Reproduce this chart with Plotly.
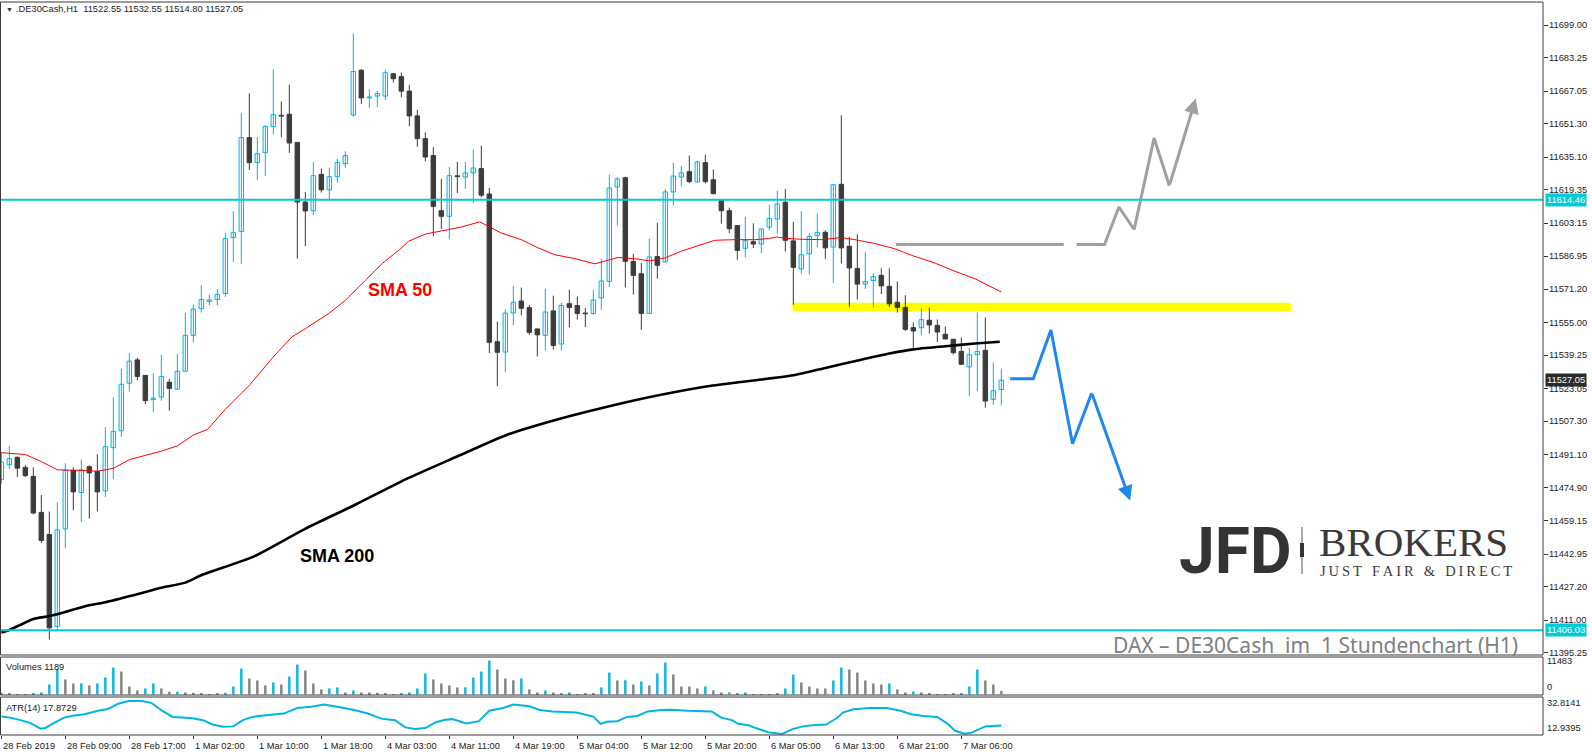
import plotly.graph_objects as go

# ------------------------------------------------------------------ data
open_ = [11479.0, 11486.2, 11489.7, 11484.9, 11480.5, 11463.1, 11452.4, 11407.9, 11455.1, 11483.4,
         11472.7, 11485.2, 11482.9, 11473.5, 11494.4, 11502.6, 11525.6, 11536.9, 11529.4, 11517.7,
         11518.9, 11526.1, 11522.7, 11531.4, 11548.8, 11561.7, 11565.2, 11566.1, 11569.0, 11596.1,
         11599.0, 11644.5, 11632.4, 11637.2, 11649.8, 11655.3, 11655.8, 11642.2, 11613.3, 11609.1,
         11626.7, 11619.2, 11625.6, 11631.9, 11655.5, 11677.1, 11663.7, 11664.6, 11664.6, 11675.4,
         11674.0, 11667.0, 11655.0, 11644.0, 11635.8, 11609.1, 11606.4, 11626.0, 11625.4, 11627.4,
         11629.5, 11617.2, 11545.7, 11540.7, 11559.6, 11565.4, 11562.2, 11551.9, 11548.8, 11560.6,
         11544.6, 11564.1, 11563.2, 11559.6, 11559.4, 11566.9, 11574.9, 11620.6, 11625.1, 11584.5,
         11578.6, 11559.4, 11586.9, 11584.3, 11618.2, 11625.4, 11628.0, 11623.0, 11632.4, 11624.1,
         11614.0, 11609.1, 11601.9, 11590.9, 11594.1, 11593.0, 11601.2, 11605.1, 11613.2, 11594.5,
         11580.9, 11588.2, 11597.0, 11598.7, 11591.5, 11621.9, 11591.9, 11581.2, 11573.6, 11575.3,
         11577.8, 11572.5, 11564.8, 11562.3, 11552.5, 11552.5, 11556.1, 11553.6, 11549.3, 11546.9,
         11541.0, 11533.5, 11539.4, 11541.5, 11517.8, 11522.55]
high_ = [11492.0, 11495.3, 11490.2, 11485.9, 11484.9, 11471.5, 11463.5, 11468.1, 11486.9, 11484.9,
         11488.7, 11485.9, 11491.2, 11504.3, 11518.9, 11532.6, 11540.1, 11537.9, 11529.4, 11530.4,
         11539.3, 11527.6, 11539.8, 11559.7, 11563.7, 11573.0, 11568.5, 11571.1, 11598.5, 11608.8,
         11656.3, 11665.9, 11644.6, 11650.4, 11677.5, 11662.0, 11670.1, 11642.2, 11618.2, 11632.7,
         11629.5, 11630.0, 11634.3, 11637.9, 11694.9, 11677.7, 11667.9, 11667.1, 11677.1, 11675.8,
         11676.0, 11670.0, 11658.0, 11647.0, 11640.0, 11624.5, 11630.3, 11632.7, 11632.7, 11638.7,
         11640.6, 11620.1, 11555.4, 11561.4, 11572.8, 11571.9, 11563.5, 11551.9, 11571.4, 11568.0,
         11564.5, 11570.9, 11567.5, 11562.0, 11570.9, 11585.9, 11626.6, 11625.3, 11625.6, 11588.3,
         11583.8, 11595.6, 11603.3, 11619.6, 11632.4, 11630.8, 11635.8, 11633.3, 11636.2, 11629.0,
         11614.5, 11610.6, 11601.9, 11606.2, 11603.0, 11600.3, 11612.0, 11618.8, 11619.6, 11603.8,
         11608.8, 11598.3, 11607.8, 11599.6, 11621.7, 11655.3, 11596.4, 11597.7, 11589.0, 11578.8,
         11581.2, 11581.2, 11574.9, 11568.2, 11555.1, 11562.2, 11562.2, 11556.5, 11553.1, 11546.9,
         11547.8, 11542.7, 11559.9, 11557.5, 11535.7, 11532.55]
low_ = [11477.0, 11484.0, 11480.2, 11480.2, 11462.1, 11448.2, 11401.5, 11405.5, 11445.7, 11464.1,
        11458.4, 11460.1, 11463.5, 11470.5, 11479.2, 11499.6, 11521.5, 11527.1, 11515.5, 11511.8,
        11517.2, 11512.3, 11522.7, 11531.4, 11545.3, 11559.8, 11563.3, 11563.3, 11567.4, 11584.3,
        11583.3, 11628.8, 11624.0, 11626.0, 11646.0, 11644.6, 11637.1, 11585.9, 11592.0, 11606.9,
        11617.9, 11614.5, 11622.7, 11629.8, 11654.6, 11660.8, 11658.9, 11659.3, 11662.7, 11671.1,
        11664.0, 11650.0, 11640.1, 11633.0, 11596.7, 11600.3, 11595.4, 11617.7, 11619.8, 11612.8,
        11615.6, 11540.2, 11524.1, 11531.0, 11553.6, 11558.5, 11549.1, 11538.6, 11541.5, 11541.9,
        11541.5, 11552.7, 11556.4, 11552.8, 11558.8, 11561.2, 11572.2, 11601.9, 11572.0, 11568.5,
        11551.5, 11559.3, 11576.2, 11584.3, 11611.7, 11620.9, 11622.4, 11622.7, 11622.4, 11616.9,
        11602.8, 11598.3, 11585.4, 11586.5, 11591.1, 11588.5, 11599.6, 11598.0, 11589.4, 11563.6,
        11578.6, 11578.2, 11591.5, 11585.7, 11574.1, 11583.5, 11562.5, 11566.2, 11571.2, 11562.2,
        11568.8, 11562.5, 11559.8, 11550.9, 11542.0, 11548.8, 11549.6, 11545.6, 11547.0, 11539.5,
        11534.4, 11519.4, 11521.8, 11513.8, 11515.2, 11514.80]
close_ = [11487.4, 11489.1, 11484.5, 11480.9, 11462.8, 11449.5, 11407.2, 11454.6, 11483.4, 11473.0,
          11483.7, 11482.2, 11473.0, 11494.9, 11502.3, 11525.1, 11536.3, 11528.9, 11517.2, 11518.4,
          11528.9, 11523.1, 11531.4, 11548.8, 11561.5, 11566.1, 11565.9, 11568.6, 11595.6, 11598.5,
          11644.5, 11632.4, 11636.7, 11649.9, 11655.6, 11654.9, 11641.9, 11613.3, 11609.0, 11626.1,
          11619.2, 11625.6, 11632.4, 11635.8, 11676.5, 11663.7, 11664.2, 11665.8, 11675.9, 11673.0,
          11667.0, 11655.0, 11644.0, 11635.1, 11611.2, 11606.4, 11626.1, 11625.6, 11627.4, 11629.8,
          11616.6, 11545.4, 11540.6, 11559.6, 11564.8, 11561.9, 11550.2, 11549.0, 11560.1, 11543.9,
          11563.2, 11562.3, 11559.4, 11559.2, 11565.9, 11575.1, 11620.1, 11624.5, 11584.6, 11577.8,
          11559.4, 11586.7, 11582.7, 11618.2, 11625.9, 11627.4, 11623.2, 11632.7, 11623.2, 11617.4,
          11609.1, 11600.4, 11589.9, 11594.6, 11593.0, 11600.3, 11605.4, 11612.4, 11594.8, 11581.7,
          11587.8, 11596.7, 11598.5, 11591.1, 11621.7, 11591.1, 11581.4, 11573.6, 11574.8, 11577.2,
          11572.7, 11564.0, 11562.3, 11551.7, 11550.9, 11556.4, 11553.8, 11550.4, 11547.0, 11540.4,
          11534.8, 11539.4, 11541.0, 11517.0, 11522.0, 11527.05]
volume = [563, 338, 90, 95, 338, 676, 3378, 8670, 5067, 3716,
          3780, 3040, 3716, 5743, 9121, 7769, 2702, 1351, 2027, 3716,
          2027, 901, 930, 676, 563, 338, 110, 338, 563, 2702,
          8783, 5405, 4729, 3040, 4054, 3378, 6080, 10134, 8107, 3716,
          1689, 2027, 2365, 676, 1351, 676, 650, 563, 338, 110,
          338, 676, 2027, 7094, 5067, 3716, 3040, 2365, 2400, 5743,
          7769, 11483, 8445, 5405, 4800, 5405, 1689, 676, 1351, 676,
          338, 676, 110, 338, 330, 2365, 7432, 4729, 4800, 3378,
          4391, 3040, 7094, 10810, 6756, 2702, 2650, 2027, 2702, 1351,
          676, 700, 338, 676, 110, 120, 100, 338, 2027, 6756,
          4054, 2702, 2027, 2000, 4729, 9121, 8445, 7432, 4729, 3716,
          3378, 3716, 1689, 676, 1013, 676, 338, 110, 100, 338,
          350, 2702, 8445, 4729, 3378, 1189]
bar_index = list(range(len(open_)))

sma50_bar = [0, 3, 5, 7, 10, 12, 14, 16, 18, 20, 22, 24, 25.8, 28, 31.1, 33.8, 36.3, 38, 40.9, 43,
             45.5, 47.6, 49.8, 50.9, 53, 55.5, 57.5, 59.8, 61.3, 62.5, 65, 67.1, 69.2, 71.7, 74.2,
             75.9, 77.1, 79.6, 81, 82.9, 85, 87.1, 89.2, 91.7, 94.2, 95.9, 96.9, 98.2, 99.8, 102.5,
             105, 106.7, 109.2, 111.7, 113.8, 116.7, 119.2, 121.7, 123.4, 125]
sma50_val = [11492.0, 11491.1, 11487.7, 11483.7, 11483.4, 11483.0, 11484.4, 11488.6, 11490.7, 11492.7,
             11495.3, 11500.5, 11503.3, 11513.0, 11525.0, 11537.5, 11548.0, 11552.0, 11559.3, 11565.7,
             11575.4, 11583.5, 11590.4, 11594.3, 11597.8, 11599.6, 11601.2, 11603.7, 11600.7, 11598.3,
             11595.1, 11591.1, 11587.8, 11585.9, 11583.4, 11585.4, 11586.5, 11585.7, 11584.8, 11586.2,
             11589.5, 11592.2, 11594.8, 11595.1, 11595.1, 11595.6, 11596.4, 11595.7, 11595.3, 11595.1,
             11596.1, 11595.1, 11593.2, 11590.7, 11587.5, 11583.8, 11579.8, 11576.2, 11573.0, 11569.8]
sma200_bar = [0, 1, 2.3, 4, 6, 8, 10.5, 13, 16.5, 20, 23, 25.2, 31.6, 37.9, 44.3, 50.6, 56.9, 63.3,
              69.6, 76.0, 82.3, 88.7, 95.0, 99.2, 103, 107.5, 111, 114, 118, 121.7, 124.8]
sma200_val = [11405.0, 11406.2, 11408.5, 11411.5, 11412.9, 11414.9, 11417.7, 11419.6, 11423.0, 11426.6,
              11429.1, 11433.0, 11441.8, 11455.0, 11466.9, 11479.2, 11490.0, 11500.8, 11508.2, 11514.5,
              11519.9, 11524.4, 11527.4, 11529.6, 11533.0, 11537.0, 11540.0, 11542.0, 11543.5, 11544.8,
              11545.7]
atr_bar = [0, 1.1, 2.4, 3.6, 4.9, 5.5, 6.6, 7.85, 9.1, 10.4, 12.1, 13.3, 14.6, 15.9, 17.6, 18.8, 20.1,
           21.4, 22.6, 23.9, 25.2, 26.4, 27.7, 29.0, 30.2, 31.1, 31.9, 33.6, 35.3, 37.0, 38.7, 40.3,
           42.0, 44.1, 45.8, 47.5, 49.2, 50.5, 51.7, 53.0, 54.3, 55.5, 56.4, 58.1, 59.7, 61.0, 62.7,
           64.0, 66.0, 67.3, 68.9, 71.9, 73.2, 74.0, 74.9, 75.7, 77.0, 78.2, 79.5, 80.8, 82.5, 83.7,
           85.8, 88.8, 90.0, 91.3, 92.1, 93.4, 94.3, 96.0, 97.6, 98.9, 100.2, 101.4, 103.1, 104.4,
           105.2, 106.5, 108.6, 110.7, 112.4, 113.7, 115.3, 117.0, 118.3, 119.2, 120.4, 121.3, 123.0,
           125]
atr_val = [23.2, 22.6, 21.1, 19.5, 16.0, 16.4, 19.5, 22.6, 23.8, 24.6, 26.7, 27.7, 30.8, 32.4, 32.4,
           31.2, 26.7, 23.0, 22.6, 22.2, 21.1, 18.5, 17.2, 17.4, 21.1, 22.6, 23.4, 24.0, 25.0, 28.3,
           29.1, 30.35, 29.1, 27.1, 25.0, 22.0, 21.1, 16.8, 15.8, 16.4, 19.9, 21.3, 21.7, 19.1, 20.5,
           26.7, 28.3, 30.35, 29.3, 27.1, 26.3, 25.6, 24.2, 23.2, 18.9, 20.1, 20.5, 23.0, 23.6, 26.3,
           27.1, 27.3, 26.7, 26.3, 22.6, 21.1, 18.9, 18.1, 16.4, 13.7, 12.94, 15.8, 17.4, 18.1, 18.5,
           22.2, 25.6, 27.5, 28.3, 28.3, 26.7, 24.6, 23.6, 23.0, 18.9, 14.8, 13.1, 13.7, 17.4, 17.87]
price_ticks = [11699.00, 11683.25, 11667.05, 11651.30, 11635.10, 11619.35, 11603.15, 11586.95, 11571.20,
               11555.00, 11539.25, 11523.05, 11507.30, 11491.10, 11474.90, 11459.15, 11442.95, 11427.20,
               11411.00, 11395.25]
time_tick_bars = [0, 8, 16, 24, 32, 40, 48, 56, 64, 72, 80, 88, 96, 104, 112, 120]
time_tick_text = ["28 Feb 2019", "28 Feb 09:00", "28 Feb 17:00", "1 Mar 02:00", "1 Mar 10:00",
                  "1 Mar 18:00", "4 Mar 03:00", "4 Mar 11:00", "4 Mar 19:00", "5 Mar 04:00",
                  "5 Mar 12:00", "5 Mar 20:00", "6 Mar 05:00", "6 Mar 13:00", "6 Mar 21:00",
                  "7 Mar 06:00"]
level_high = 11614.46
level_low = 11406.03
last_price = 11527.05
vol_max_label = 11483
atr_max_label, atr_min_label = 32.8141, 12.9395
atr_last = 17.8729
zone_bar = [98.9, 161.2]
zone_price = [11560.4, 11564.6]
up_path_bar = [111.8, 132.8, None, 134.4, 137.9, 139.7, 141.6, 144.1, 146.0, 149.3]
up_path_val = [11592.7, 11592.7, None, 11592.7, 11592.7, 11610.9, 11600.0, 11644.3, 11621.2, 11663.4]
down_path_bar = [126.1, 129.0, 131.2, 133.9, 136.3, 141.1]
down_path_val = [11527.8, 11527.8, 11551.4, 11496.3, 11520.9, 11468.8]

# ------------------------------------------------------------------ geometry / style
W, H = 1592, 756
PX_L, PX_R = 1, 1543
MAIN_T, MAIN_B = 2, 655
VOL_T, VOL_B = 657, 695
ATR_T, ATR_B = 697, 735
BAR0_PX, BAR_STEP = 1.33, 8.0
P_REF, P_REF_PX, PX_PER_PT = 11699.0, 25.0, 2.066

CYAN = "#00B4E4"
LEVEL = "#00CCD4"
DARK = "#3C3C3C"
GRAY_VOL = "#808080"
FONT_FAM = "Liberation Sans, Arial, sans-serif"
AXFONT = dict(family=FONT_FAM, size=9.3, color="#222222")


def fx(px):
    return px / W


def fy(py):
    return 1 - py / H


x_range = [(PX_L - BAR0_PX) / BAR_STEP, (PX_R - BAR0_PX) / BAR_STEP]
y_range = [P_REF - (MAIN_B - P_REF_PX) / PX_PER_PT, P_REF + (P_REF_PX - MAIN_T) / PX_PER_PT]
vmax = max(volume)
vol_ppu = (694.4 - 660.6) / vmax
vol_range = [-(VOL_B - 694.4) / vol_ppu, (694.4 - VOL_T) / vol_ppu]
atr_hi_px, atr_lo_px = 701.1, 733.9
atr_per_px = (max(atr_val) - min(atr_val)) / (atr_lo_px - atr_hi_px)
atr_hi_v, atr_lo_v = max(atr_val), min(atr_val)
atr_range = [atr_lo_v - (ATR_B - atr_lo_px) * atr_per_px, atr_hi_v + (atr_hi_px - ATR_T) * atr_per_px]

fig = go.Figure()

# ---------------- candles
bull = [i for i in bar_index if close_[i] >= open_[i]]
bear = [i for i in bar_index if close_[i] < open_[i]]


def wicks(idx):
    xs, ys = [], []
    for i in idx:
        xs += [bar_index[i], bar_index[i], None]
        ys += [low_[i], high_[i], None]
    return xs, ys


for idx, col in ((bull, CYAN), (bear, DARK)):
    wx, wy = wicks(idx)
    fig.add_trace(go.Scatter(x=wx, y=wy, mode="lines", line=dict(color=col, width=1),
                             hoverinfo="skip", xaxis="x", yaxis="y"))

fig.add_trace(go.Bar(x=[bar_index[i] for i in bull],
                     y=[max(close_[i] - open_[i], 0.35) for i in bull],
                     base=[open_[i] for i in bull], width=0.56,
                     marker=dict(color="white", line=dict(color=CYAN, width=1)),
                     hoverinfo="skip", xaxis="x", yaxis="y"))
fig.add_trace(go.Bar(x=[bar_index[i] for i in bear],
                     y=[max(open_[i] - close_[i], 0.35) for i in bear],
                     base=[close_[i] for i in bear], width=0.56,
                     marker=dict(color=DARK, line=dict(color=DARK, width=1)),
                     hoverinfo="skip", xaxis="x", yaxis="y"))

# ---------------- moving averages
fig.add_trace(go.Scatter(x=sma50_bar, y=sma50_val, mode="lines", line=dict(color="#FF0000", width=1),
                         hoverinfo="skip", xaxis="x", yaxis="y"))
fig.add_trace(go.Scatter(x=sma200_bar, y=sma200_val, mode="lines",
                         line=dict(color="#000000", width=2.6, shape="spline", smoothing=0.6),
                         hoverinfo="skip", xaxis="x", yaxis="y"))

# ---------------- drawn scenario paths
fig.add_trace(go.Scatter(x=up_path_bar[:-1], y=up_path_val[:-1], mode="lines",
                         line=dict(color="#A0A0A0", width=3), hoverinfo="skip", xaxis="x", yaxis="y"))
fig.add_trace(go.Scatter(x=down_path_bar[:-1], y=down_path_val[:-1], mode="lines",
                         line=dict(color="#1E88F0", width=3), hoverinfo="skip", xaxis="x", yaxis="y"))

# ---------------- volumes
vol_colors = [GRAY_VOL] + [CYAN if volume[i] > volume[i - 1] else GRAY_VOL for i in bar_index[1:]]
fig.add_trace(go.Bar(x=bar_index, y=volume, width=0.3, marker=dict(color=vol_colors, line=dict(width=0)),
                     hoverinfo="skip", xaxis="x2", yaxis="y2"))

# ---------------- ATR
fig.add_trace(go.Scatter(x=atr_bar, y=atr_val, mode="lines", line=dict(color=CYAN, width=2),
                         hoverinfo="skip", xaxis="x3", yaxis="y3"))

shapes = []
shapes.append(dict(type="rect", xref="x", yref="y", x0=zone_bar[0], x1=zone_bar[1],
                   y0=zone_price[0], y1=zone_price[1], fillcolor="#FFFF00", line=dict(width=0),
                   layer="below"))
for lvl in (level_high, level_low):
    shapes.append(dict(type="line", xref="paper", yref="y", x0=fx(PX_L), x1=fx(PX_R), y0=lvl, y1=lvl,
                       line=dict(color=LEVEL, width=2), layer="above"))
for top, bot in ((MAIN_T, MAIN_B), (VOL_T, VOL_B), (ATR_T, ATR_B)):
    shapes.append(dict(type="rect", xref="paper", yref="paper", x0=fx(PX_L - 0.5), x1=fx(PX_R),
                       y0=fy(bot), y1=fy(top), line=dict(color="#3A3A3A", width=1),
                       fillcolor="rgba(0,0,0,0)", layer="above"))
# logo separator with candle glyph
shapes.append(dict(type="line", xref="paper", yref="paper", x0=fx(1302), x1=fx(1302), y0=fy(574),
                   y1=fy(527), line=dict(color="#555555", width=1)))
shapes.append(dict(type="rect", xref="paper", yref="paper", x0=fx(1300), x1=fx(1304), y0=fy(557),
                   y1=fy(543), fillcolor="#333333", line=dict(width=0)))

ann = []
ann.append(dict(x=up_path_bar[-1], y=up_path_val[-1], ax=up_path_bar[-2], ay=up_path_val[-2],
                xref="x", yref="y", axref="x", ayref="y", showarrow=True, arrowhead=2, arrowsize=1,
                arrowwidth=3, arrowcolor="#A0A0A0", text=""))
ann.append(dict(x=down_path_bar[-1], y=down_path_val[-1], ax=down_path_bar[-2], ay=down_path_val[-2],
                xref="x", yref="y", axref="x", ayref="y", showarrow=True, arrowhead=2, arrowsize=1,
                arrowwidth=3, arrowcolor="#1E88F0", text=""))


def label(px, py, text, size=9.3, color="#222222", family=FONT_FAM, xanchor="left", bg=None):
    d = dict(x=fx(px), y=fy(py), xref="paper", yref="paper", text=text, showarrow=False,
             xanchor=xanchor, yanchor="middle", font=dict(size=size, color=color, family=family),
             borderpad=0)
    if bg:
        d["bgcolor"] = bg
        d["borderpad"] = 1
    return d


def price_px(p):
    return P_REF_PX + (P_REF - p) * PX_PER_PT


# right price scale labels
for v in price_ticks:
    ann.append(label(1548, price_px(v), "%.2f" % v))

ann.append(label(5, 9.5, "▼", size=7, color="#333333"))
ann.append(label(15, 9.5, ".DE30Cash,H1\u00a0\u00a011522.55 11532.55 11514.80 11527.05"))
ann.append(label(5, 667, "Volumes %d" % volume[-1]))
ann.append(label(5, 708, "ATR(14) %.4f" % atr_last))
ann.append(label(1546, 661, str(vol_max_label)))
ann.append(label(1546, 687, "0"))
ann.append(label(1546, 702.6, "%.4f" % atr_max_label))
ann.append(label(1546, 728, "%.4f" % atr_min_label))

ann.append(label(1545, price_px(level_high), "%.2f" % level_high, color="white", bg=LEVEL))
ann.append(label(1545, price_px(level_low), "%.2f" % level_low, color="white", bg=LEVEL))
ann.append(label(1545, price_px(last_price), "%.2f" % last_price, color="white", bg="#2A2A2A"))

for b, t in zip(time_tick_bars, time_tick_text):
    ann.append(dict(x=b, y=fy(746), xref="x3", yref="paper", text=t, showarrow=False, xanchor="left",
                    yanchor="middle", font=AXFONT, borderpad=0, xshift=1))

ann.append(label(400, 290, "<b>SMA 50</b>", size=18, color="#FF0000", xanchor="center"))
ann.append(label(337, 556, "<b>SMA 200</b>", size=18, color="#000000", xanchor="center"))

ann.append(label(1519, 644.5, "DAX – DE30Cash\u00a0\u00a0im\u00a0\u00a01 Stundenchart (H1)", size=21,
                 color="#808080", family="Noto Sans, sans-serif", xanchor="right"))

ann.append(label(1235, 551, "<b>JFD</b>", size=64, color="#333333", family="Roboto, sans-serif",
                 xanchor="center"))
ann.append(label(1318, 542, "BROKERS", size=41, color="#3A3A3A", family="Liberation Serif, serif"))
sep_in, sep_word = "\u2009", "\u00a0\u00a0\u2009"
slogan = sep_word.join(sep_in.join(list(w)) for w in ["JUST", "FAIR", "&", "DIRECT"])
ann.append(label(1319, 570.5, slogan, size=14.5, color="#3A3A3A", family="Liberation Serif, serif"))

fig.update_layout(
    width=W, height=H, margin=dict(l=0, r=0, t=0, b=0), paper_bgcolor="white", plot_bgcolor="white",
    showlegend=False, barmode="overlay", shapes=shapes, annotations=ann, hovermode=False,
    xaxis=dict(domain=[fx(PX_L), fx(PX_R)], range=x_range, anchor="y", showticklabels=False,
               showgrid=False, zeroline=False, showline=False, ticks=""),
    xaxis2=dict(domain=[fx(PX_L), fx(PX_R)], range=x_range, anchor="y2", showticklabels=False,
                showgrid=False, zeroline=False, showline=False, ticks=""),
    xaxis3=dict(domain=[fx(PX_L), fx(PX_R)], range=x_range, anchor="y3", showticklabels=False,
                showgrid=False, zeroline=False, showline=False, ticks="outside", ticklen=3,
                tickcolor="#333333", tickvals=time_tick_bars),
    yaxis=dict(domain=[fy(MAIN_B), fy(MAIN_T)], range=y_range, anchor="x", side="right",
               tickvals=price_ticks, showticklabels=False, ticks="outside",
               ticklen=4, tickcolor="#333333", showgrid=False, zeroline=False, showline=False),
    yaxis2=dict(domain=[fy(VOL_B), fy(VOL_T)], range=vol_range, anchor="x2", showticklabels=False,
                showgrid=False, zeroline=False, showline=False, ticks=""),
    yaxis3=dict(domain=[fy(ATR_B), fy(ATR_T)], range=atr_range, anchor="x3", showticklabels=False,
                showgrid=False, zeroline=False, showline=False, ticks=""),
)

fig.write_html("out.html", config={"displayModeBar": False},
               post_script="document.body.style.margin='0px';")
